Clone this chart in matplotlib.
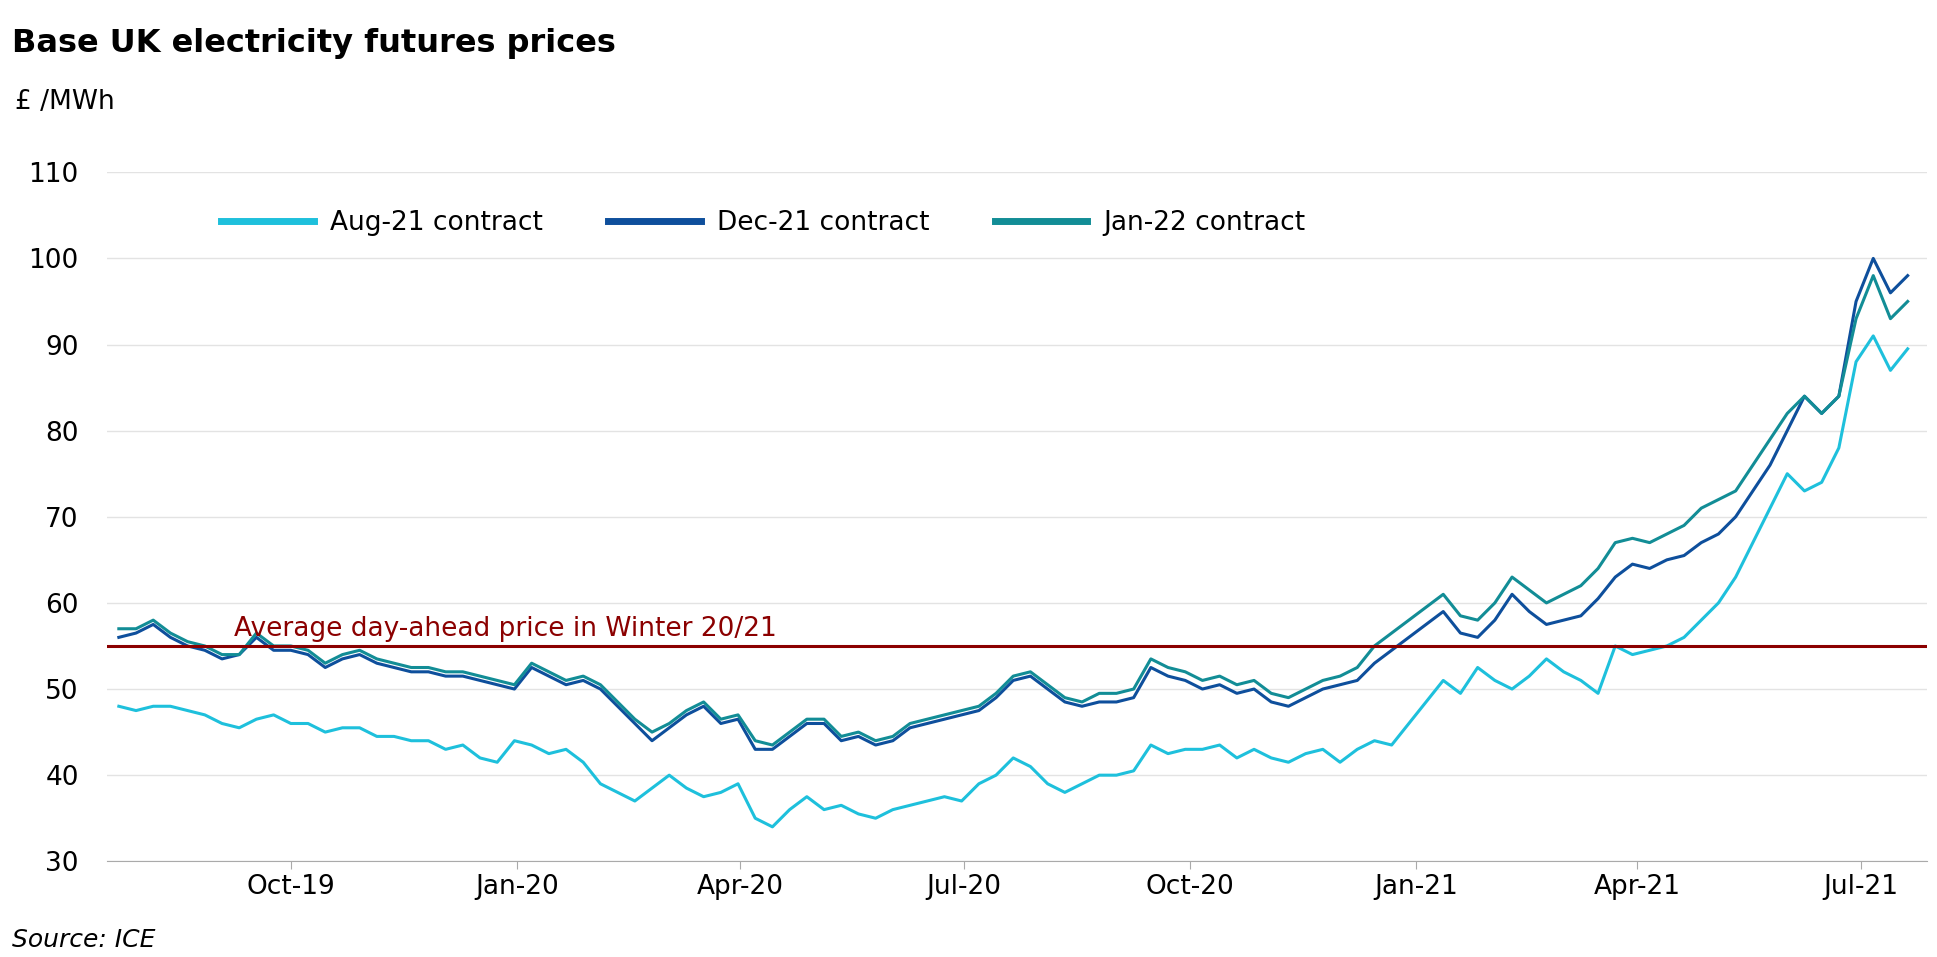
import matplotlib
matplotlib.use("Agg")
import matplotlib.pyplot as plt
import matplotlib.dates as mdates
import pandas as pd

dates = pd.date_range("2019-07-23", periods=105, freq="7D")

aug21 = [48, 47.5,
         48, 48, 47.5, 47,
         46, 45.5, 46.5, 47,
         46, 46, 45, 45.5, 45.5,
         44.5, 44.5, 44, 44,
         43, 43.5, 42, 41.5, 44,
         43.5, 42.5, 43, 41.5,
         39, 38, 37, 38.5,
         40, 38.5, 37.5, 38, 39,
         35, 34, 36, 37.5,
         36, 36.5, 35.5, 35,
         36, 36.5, 37, 37.5, 37,
         39, 40, 42, 41,
         39, 38, 39, 40,
         40, 40.5, 43.5, 42.5, 43,
         43, 43.5, 42, 43,
         42, 41.5, 42.5, 43,
         41.5, 43, 44, 43.5, 46,
         48.5, 51, 49.5, 52.5,
         51, 50, 51.5, 53.5,
         52, 51, 49.5, 55, 54,
         54.5, 55, 56, 58,
         60, 63, 67, 71,
         75, 73, 74, 78, 88,
         91, 87, 89.5]

dec21 = [56, 56.5,
         57.5, 56, 55, 54.5,
         53.5, 54, 56, 54.5,
         54.5, 54, 52.5, 53.5, 54,
         53, 52.5, 52, 52,
         51.5, 51.5, 51, 50.5, 50,
         52.5, 51.5, 50.5, 51,
         50, 48, 46, 44,
         45.5, 47, 48, 46, 46.5,
         43, 43, 44.5, 46,
         46, 44, 44.5, 43.5,
         44, 45.5, 46, 46.5, 47,
         47.5, 49, 51, 51.5,
         50, 48.5, 48, 48.5,
         48.5, 49, 52.5, 51.5, 51,
         50, 50.5, 49.5, 50,
         48.5, 48, 49, 50,
         50.5, 51, 53, 54.5, 56,
         57.5, 59, 56.5, 56,
         58, 61, 59, 57.5,
         58, 58.5, 60.5, 63, 64.5,
         64, 65, 65.5, 67,
         68, 70, 73, 76,
         80, 84, 82, 84, 95,
         100, 96, 98]

jan22 = [57, 57,
         58, 56.5, 55.5, 55,
         54, 54, 56.5, 55,
         55, 54.5, 53, 54, 54.5,
         53.5, 53, 52.5, 52.5,
         52, 52, 51.5, 51, 50.5,
         53, 52, 51, 51.5,
         50.5, 48.5, 46.5, 45,
         46, 47.5, 48.5, 46.5, 47,
         44, 43.5, 45, 46.5,
         46.5, 44.5, 45, 44,
         44.5, 46, 46.5, 47, 47.5,
         48, 49.5, 51.5, 52,
         50.5, 49, 48.5, 49.5,
         49.5, 50, 53.5, 52.5, 52,
         51, 51.5, 50.5, 51,
         49.5, 49, 50, 51,
         51.5, 52.5, 55, 56.5, 58,
         59.5, 61, 58.5, 58,
         60, 63, 61.5, 60,
         61, 62, 64, 67, 67.5,
         67, 68, 69, 71,
         72, 73, 76, 79,
         82, 84, 82, 84, 93,
         98, 93, 95]

avg_winter = 55
series_labels = ["Aug-21 contract", "Dec-21 contract", "Jan-22 contract"]
colors = ["#1ec0dc", "#0e4f9c", "#128d96"]

fig = plt.figure(figsize=(19.37, 9.57), dpi=100)
ax = fig.add_axes([0.055, 0.10, 0.94, 0.72])
for vals, lab, c in zip([aug21, dec21, jan22], series_labels, colors):
    ax.plot(dates, vals, color=c, lw=2.2, label=lab)
ax.axhline(avg_winter, color="#8b0000", lw=2.2)
ax.text(pd.Timestamp("2019-09-08"), avg_winter + 1.2, "Average day-ahead price in Winter 20/21",
        color="#8b0000", fontsize=19)

ax.set_ylim(30, 110)
ax.set_yticks(range(30, 111, 10))
ax.set_xlim(pd.Timestamp("2019-07-18"), pd.Timestamp("2021-07-28"))
ticks = pd.to_datetime(["2019-10-01", "2020-01-01", "2020-04-01", "2020-07-01",
                        "2020-10-01", "2021-01-01", "2021-04-01", "2021-07-01"])
ax.set_xticks(ticks)
ax.xaxis.set_major_formatter(mdates.DateFormatter("%b-%y"))
ax.grid(axis="y", color="#e3e3e3", lw=1)
ax.set_axisbelow(True)
for s in ["top", "right", "left"]:
    ax.spines[s].set_visible(False)
ax.spines["bottom"].set_color("#aaaaaa")
ax.tick_params(axis="y", length=0, labelsize=19, pad=20)
ax.tick_params(axis="x", length=6, color="#aaaaaa", labelsize=19)
ax.legend(loc="upper left", bbox_to_anchor=(0.05, 0.98), ncol=3, frameon=False,
          fontsize=19, handlelength=3.5, columnspacing=2.5, handletextpad=0.6)
for l in ax.get_legend().get_lines():
    l.set_linewidth(5)

fig.text(0.006, 0.955, "Base UK electricity futures prices", fontsize=23, fontweight="bold", va="center")
fig.text(0.008, 0.893, "£ /MWh", fontsize=19, va="center")
fig.text(0.006, 0.018, "Source: ICE", fontsize=18, style="italic", va="center")
fig.savefig("out.png", dpi=100)
